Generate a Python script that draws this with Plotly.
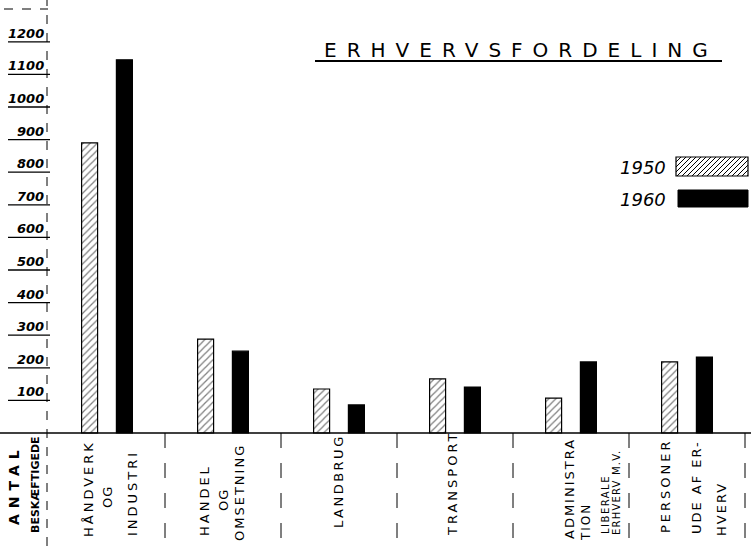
import plotly.graph_objects as go

# ---- data ----
categories = ["Håndverk og industri", "Handel og omsætning", "Landbrug",
              "Transport", "Administration, liberale erhverv m.v.",
              "Personer ude af erhverv"]
values_1950 = [890, 288, 135, 166, 107, 218]
values_1960 = [1145, 251, 86, 141, 218, 233]
y_ticks = [100, 200, 300, 400, 500, 600, 700, 800, 900, 1000, 1100, 1200]
y_tick_labels = ["100", "200", "300", "400", "500", "600", "700", "800",
                 "900", "1000", "1100", "1200"]
series_names = ["1950", "1960"]
title_text = "ERHVERVSFORDELING"
y_title = ["ANTAL", "BESKÆFTIGEDE"]
# label pieces per category:
# (text, offset from group centre px, vertical centre px, font size, letter spacing)
cat_labels = [
    [("HÅNDVERK", -19, 489, 13, 3), ("OG", 0, 497, 13, 1), ("INDUSTRI", 25, 493, 13, 3)],
    [("HANDEL", -19, 500, 13, 3), ("OG", 0, 500, 13, 1), ("OMSETNING", 16, 493, 13, 2)],
    [("LANDBRUG", -1, 481, 13, 2.5)],
    [("TRANSPORT", -3, 484, 13, 3)],
    [("ADMINISTRA", -2, 489, 13, 2), ("TION", 15, 522, 12, 2),
     ("LIBERALE", 34, 505, 10, 1.5), ("ERHVERV M.V.", 45, 493, 10, 1.2)],
    [("PERSONER", -21, 486, 13, 3), ("UDE AF ER-", 9, 487, 13, 2), ("HVERV", 34, 509, 13, 2)],
]

W, H = 751, 546
X0_PX, X_STEP = 107, 116          # group centre of first category, spacing
Y0_PX, Y_SCALE = 433, 0.326       # baseline pixel, px per unit

x_range = [-X0_PX / X_STEP, (W - X0_PX) / X_STEP]
y_range = [-(H - Y0_PX) / Y_SCALE, Y0_PX / Y_SCALE]

def px(xp):
    return xp / W

def py(yp):
    return 1 - yp / H

def spaced(t, sp):
    return f'<span style="letter-spacing:{sp}px">{t}</span>'

fig = go.Figure()
fig.add_trace(go.Bar(
    x=list(range(len(categories))), y=values_1950, name=series_names[0],
    marker=dict(color="white", line=dict(color="black", width=1.2),
                pattern=dict(shape="/", fgcolor="black", bgcolor="white",
                             size=5, solidity=0.25)),
    hovertext=categories,
))
fig.add_trace(go.Bar(
    x=list(range(len(categories))), y=values_1960, name=series_names[1],
    marker=dict(color="black", line=dict(color="black", width=1.2)),
    hovertext=categories,
))

shapes = []
annotations = []

# baseline
shapes.append(dict(type="line", xref="paper", yref="y", x0=0, x1=1, y0=0, y1=0,
                   line=dict(color="black", width=1.5)))
# y axis line
shapes.append(dict(type="line", xref="paper", yref="paper", x0=px(47), x1=px(47),
                   y0=0, y1=1, line=dict(color="black", width=1, dash="dash")))
# top-left dashes
shapes.append(dict(type="line", xref="paper", yref="paper", x0=px(4), x1=px(48),
                   y0=py(9), y1=py(9), line=dict(color="black", width=1.2, dash="dash")))
# separators between groups below baseline
for i in range(len(categories)):
    shapes.append(dict(type="line", xref="x", yref="y", x0=i + 0.5, x1=i + 0.5,
                       y0=0, y1=y_range[0], line=dict(color="black", width=1, dash="longdash")))

# y ticks: underline + label
for v, lab in zip(y_ticks, y_tick_labels):
    shapes.append(dict(type="line", xref="paper", yref="y", x0=px(8), x1=px(50),
                       y0=v, y1=v, line=dict(color="black", width=1.3)))
    annotations.append(dict(xref="paper", yref="y", x=px(46), y=v, text=lab,
                            showarrow=False, xanchor="right", yanchor="bottom",
                            yshift=-1,
                            font=dict(family="DejaVu Sans", size=13, color="black",
                                      style="italic", weight="bold")))

# y title (vertical)
for t, xp, sz, sp in zip(y_title, [14, 35], [14, 11], [6, 0]):
    annotations.append(dict(xref="paper", yref="paper", x=px(xp), y=py(485), text=spaced(t, sp),
                            showarrow=False, textangle=-90,
                            xanchor="center", yanchor="middle",
                            font=dict(family="DejaVu Sans", size=sz,
                                      color="black", weight="bold")))

# category labels
for i, pieces in enumerate(cat_labels):
    for t, off, yc, sz, sp in pieces:
        annotations.append(dict(xref="x", yref="paper", x=i + off / X_STEP, y=py(yc),
                                text=spaced(t, sp), showarrow=False, textangle=-90,
                                xanchor="center", yanchor="middle",
                                font=dict(family="DejaVu Sans", size=sz, color="black")))

# title
annotations.append(dict(xref="paper", yref="paper", x=px(521), y=py(50), text=spaced(title_text, 10),
                        showarrow=False, xanchor="center", yanchor="middle",
                        font=dict(family="DejaVu Sans", size=20, color="black")))
shapes.append(dict(type="line", xref="paper", yref="paper", x0=px(315), x1=px(722),
                   y0=py(61), y1=py(61), line=dict(color="black", width=2)))

# legend
annotations.append(dict(xref="paper", yref="paper", x=px(668), y=py(167), text=series_names[0],
                        showarrow=False, xanchor="right", yanchor="middle",
                        font=dict(family="DejaVu Sans", size=18, color="black", style="italic")))
annotations.append(dict(xref="paper", yref="paper", x=px(668), y=py(199), text=series_names[1],
                        showarrow=False, xanchor="right", yanchor="middle",
                        font=dict(family="DejaVu Sans", size=18, color="black", style="italic")))
bx0, bx1, by0, by1 = 676, 748, 157, 176
shapes.append(dict(type="rect", xref="paper", yref="paper", x0=px(bx0), x1=px(bx1),
                   y0=py(by1), y1=py(by0), line=dict(color="black", width=1.2)))
path = ""
step = 5
h = by1 - by0
xs = bx0 - h
while xs < bx1:
    xa, ya = xs, by1
    xb, yb = xs + h, by0
    if xa < bx0:
        ya = by1 - (bx0 - xa)
        xa = bx0
    if xb > bx1:
        yb = by0 + (xb - bx1)
        xb = bx1
    path += f"M{px(xa)},{py(ya)} L{px(xb)},{py(yb)} "
    xs += step
shapes.append(dict(type="path", xref="paper", yref="paper", path=path,
                   line=dict(color="black", width=1)))
shapes.append(dict(type="rect", xref="paper", yref="paper", x0=px(678), x1=px(748),
                   y0=py(207), y1=py(190), fillcolor="black", line=dict(color="black", width=1)))

fig.update_layout(
    width=W, height=H,
    margin=dict(l=0, r=0, t=0, b=0),
    paper_bgcolor="white", plot_bgcolor="white",
    barmode="group", bargap=0.40, bargroupgap=0.54,
    showlegend=False,
    xaxis=dict(range=x_range, visible=False, fixedrange=True),
    yaxis=dict(range=y_range, visible=False, fixedrange=True),
    shapes=shapes, annotations=annotations,
)

fig.write_html("out.html", config={"displayModeBar": False},
               post_script="document.body.style.margin='0';document.body.style.padding='0';")
